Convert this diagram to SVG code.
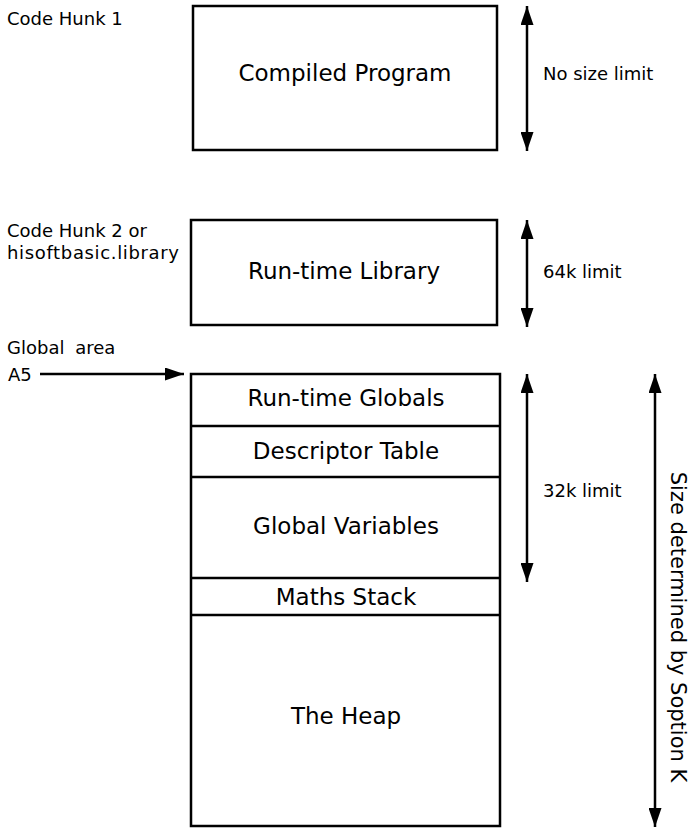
<svg xmlns="http://www.w3.org/2000/svg" width="695" height="834" viewBox="0 0 695 834">
<style>
.box{fill:#fff;stroke:#000;stroke-width:2.5}
.div{stroke:#000;stroke-width:2.5}
.lbl{font-family:"DejaVu Sans","Liberation Sans",sans-serif;font-size:23px;fill:#000;text-anchor:middle;dominant-baseline:central}
.side{font-family:"DejaVu Sans","Liberation Sans",sans-serif;font-size:18px;fill:#000;dominant-baseline:central}
.arr{stroke:#000;stroke-width:2.5;fill:none}
</style>
<defs>
<marker id="ahb" viewBox="0 0 10 10" refX="10" refY="5" markerWidth="19" markerHeight="13" markerUnits="userSpaceOnUse" orient="auto-start-reverse" preserveAspectRatio="none">
<path d="M0,0 L10,5 L0,10 z" fill="#000"/>
</marker>
</defs>
<rect width="695" height="834" fill="#fff"/>
<g id="code-hunk-1">
<text class="side" x="7" y="18">Code Hunk 1</text>
<rect class="box" x="193" y="6" width="304" height="144"/>
<text class="lbl" x="345" y="73">Compiled Program</text>
</g>
<g id="runtime-library">
<text class="side" x="7" y="230">Code Hunk 2 or</text>
<text class="side" x="7" y="252" textLength="172">hisoftbasic.library</text>
<rect class="box" x="191" y="220" width="306" height="105"/>
<text class="lbl" x="344" y="271">Run-time Library</text>
</g>
<g id="global-area">
<text class="side" x="7" y="347" style="word-spacing:5px">Global area</text>
<text class="side" x="8" y="374">A5</text>
<rect class="box" x="191" y="374" width="309" height="452"/>
<line class="div" x1="191" y1="426" x2="500" y2="426"/>
<line class="div" x1="191" y1="477" x2="500" y2="477"/>
<line class="div" x1="191" y1="578" x2="500" y2="578"/>
<line class="div" x1="191" y1="615" x2="500" y2="615"/>
<text class="lbl" x="346" y="398">Run-time Globals</text>
<text class="lbl" x="346" y="451">Descriptor Table</text>
<text class="lbl" x="346" y="526">Global Variables</text>
<text class="lbl" x="346" y="597">Maths Stack</text>
<text class="lbl" x="346" y="716">The Heap</text>
</g>
<g id="connectors">
<line class="arr" x1="527" y1="6" x2="527" y2="151" marker-start="url(#ahb)" marker-end="url(#ahb)"/>
<line class="arr" x1="527" y1="220" x2="527" y2="327" marker-start="url(#ahb)" marker-end="url(#ahb)"/>
<line class="arr" x1="527" y1="374" x2="527" y2="582" marker-start="url(#ahb)" marker-end="url(#ahb)"/>
<line class="arr" x1="655" y1="374" x2="655" y2="827" marker-start="url(#ahb)" marker-end="url(#ahb)"/>
<line class="arr" x1="40" y1="374" x2="184" y2="374" marker-end="url(#ahb)"/>
</g>
<g id="size-labels">
<text class="side" x="543" y="73">No size limit</text>
<text class="side" x="543" y="271">64k limit</text>
<text class="side" x="543" y="490">32k limit</text>
<text class="side" x="0" y="0" text-anchor="middle" transform="translate(678,627) rotate(90)" style="font-size:21px">Size determined by Soption K</text>
</g>
</svg>
